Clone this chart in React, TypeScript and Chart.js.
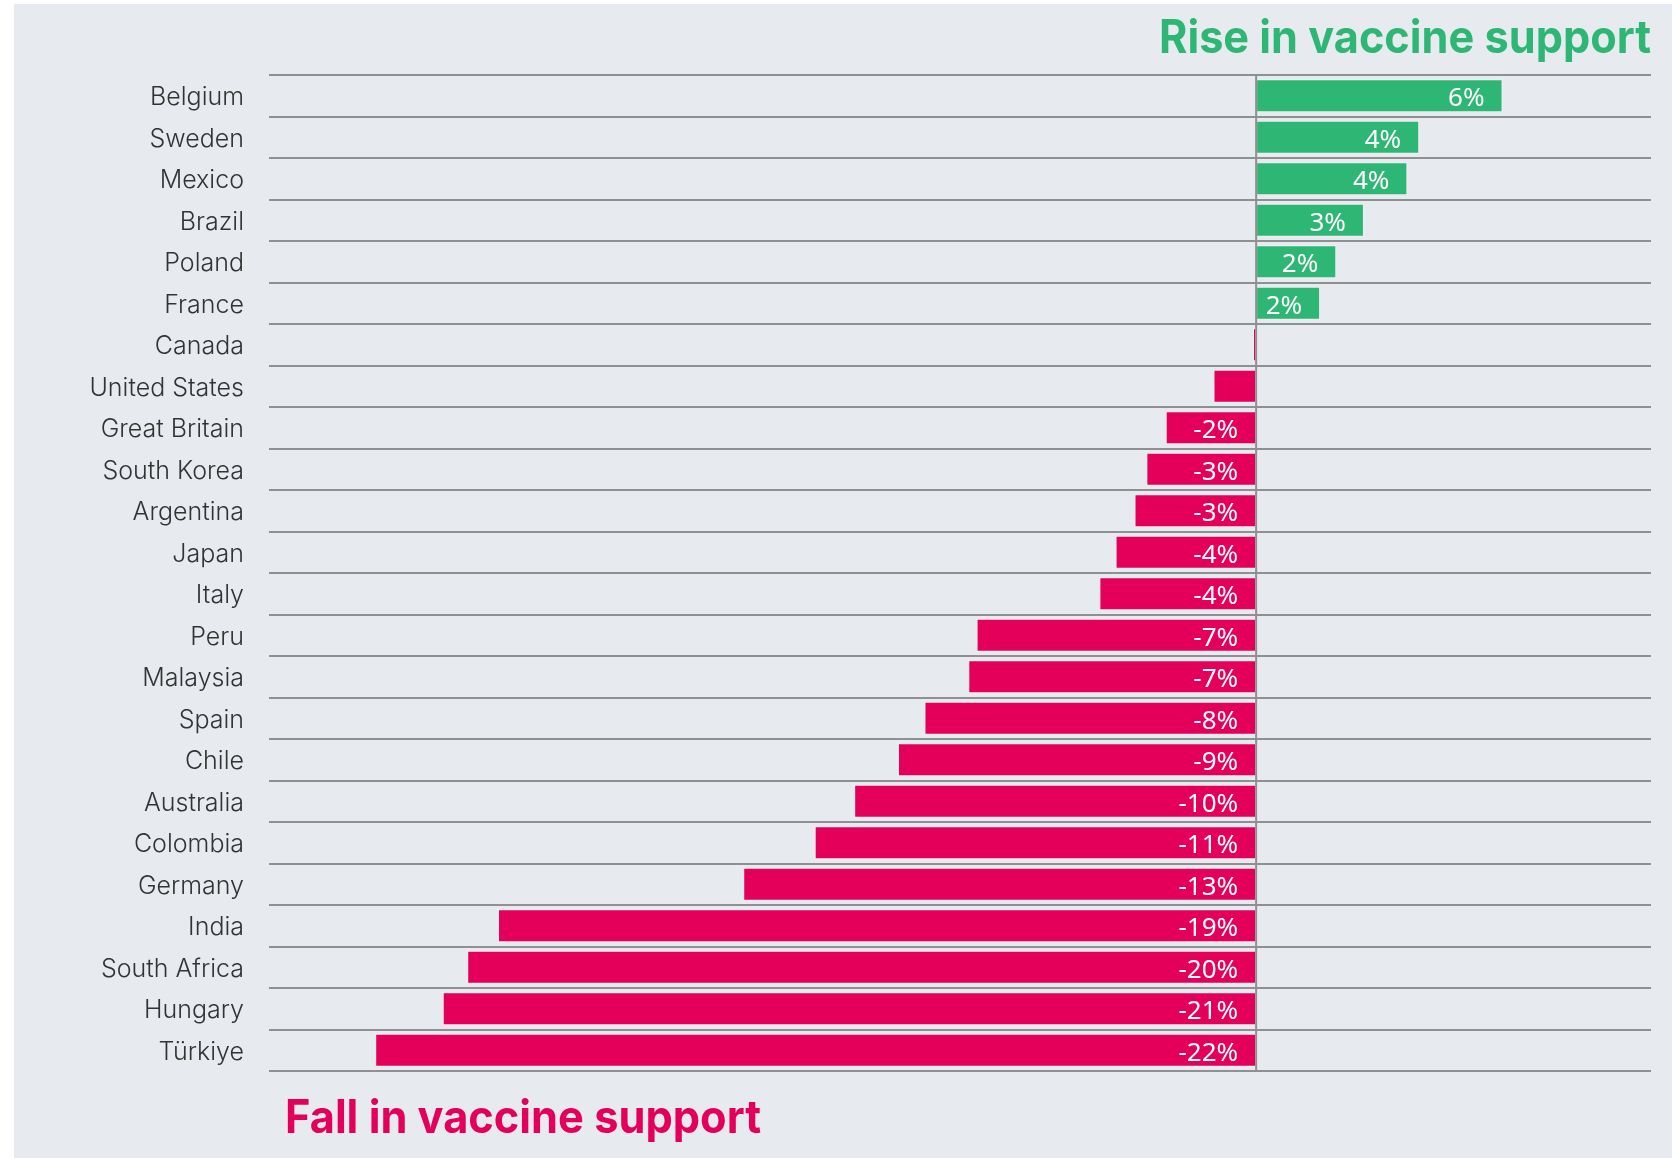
import React, { useEffect, useRef } from "react";
import { Chart, registerables } from "chart.js";

Chart.register(...registerables);

const countries = [
  "Belgium", "Sweden", "Mexico", "Brazil", "Poland", "France", "Canada",
  "United States", "Great Britain", "South Korea", "Argentina", "Japan", "Italy",
  "Peru", "Malaysia", "Spain", "Chile", "Australia", "Colombia", "Germany",
  "India", "South Africa", "Hungary", "Türkiye",
];

const change = [
  6.24, 4.13, 3.83, 2.73, 2.03, 1.62, -0.08, -1.08, -2.29, -2.78, -3.08, -3.56,
  -3.97, -7.08, -7.29, -8.4, -9.07, -10.18, -11.18, -12.99, -19.2, -19.98, -20.6, -22.31,
];

const valueLabels = [
  "6%", "4%", "4%", "3%", "2%", "2%", "", "", "-2%", "-3%", "-3%", "-4%",
  "-4%", "-7%", "-7%", "-8%", "-9%", "-10%", "-11%", "-13%", "-19%", "-20%", "-21%", "-22%",
];

const riseTitle = "Rise in vaccine support";
const fallTitle = "Fall in vaccine support";

const GREEN = "#2EB774";
const PINK = "#E4005A";
const GRID = "#8F9091";

export default function App() {
  const canvasRef = useRef<HTMLCanvasElement | null>(null);

  useEffect(() => {
    const canvas = canvasRef.current;
    if (!canvas) return;

    const labelsPlugin = {
      id: "valueLabels",
      afterDatasetsDraw(chart: any) {
        const ctx = chart.ctx;
        const meta = chart.getDatasetMeta(0);
        const xScale = chart.scales.x;
        const zero = xScale.getPixelForValue(0);
        ctx.save();
        // zero line
        ctx.strokeStyle = GRID;
        ctx.lineWidth = 2;
        ctx.beginPath();
        ctx.moveTo(zero, chart.chartArea.top - 1);
        ctx.lineTo(zero, chart.chartArea.bottom + 1);
        ctx.stroke();
        // value labels
        ctx.fillStyle = "#ffffff";
        ctx.font = "26px 'Noto Sans'";
        ctx.textAlign = "right";
        ctx.textBaseline = "middle";
        meta.data.forEach((bar: any, i: number) => {
          const txt = valueLabels[i];
          if (!txt) return;
          const right = Math.max(bar.x, bar.base);
          ctx.fillText(txt, right - 18, bar.y + 3);
        });
        // titles
        ctx.font = "bold 46px Inter";
        ctx.textBaseline = "alphabetic";
        ctx.fillStyle = GREEN;
        ctx.textAlign = "right";
        ctx.fillText(riseTitle, chart.chartArea.right, 53, 492);
        ctx.fillStyle = PINK;
        ctx.textAlign = "left";
        ctx.fillText(fallTitle, 285, 1133, 476);
        ctx.restore();
      },
    };

    const chart = new Chart(canvas, {
      type: "bar",
      data: {
        labels: countries,
        datasets: [
          {
            data: change,
            backgroundColor: change.map((v) => (v >= 0 ? GREEN : PINK)),
            borderColor: "rgba(255,255,255,0.35)",
            borderWidth: 1,
            borderSkipped: false,
            barPercentage: 0.8,
            categoryPercentage: 1,
          },
        ],
      },
      options: {
        indexAxis: "y",
        responsive: false,
        animation: false,
        layout: { padding: { left: 0, top: 75, right: 21, bottom: 87 } },
        plugins: {
          legend: { display: false },
          tooltip: { enabled: false },
          title: { display: false },
        },
        scales: {
          x: {
            min: -25,
            max: 10,
            display: true,
            ticks: { display: false, stepSize: 5 },
            grid: { display: false, drawTicks: false },
            border: { display: false },
            afterFit: (scale: any) => {
              scale.height = 0;
            },
          },
          y: {
            ticks: {
              color: "#333333",
              font: { family: "Inter", size: 25, weight: "300" },
              padding: 25,
              labelOffset: 2,
            },
            grid: {
              offset: true,
              color: GRID,
              lineWidth: 2,
              drawTicks: false,
            },
            border: { display: false },
            afterFit: (scale: any) => {
              scale.width = 269;
            },
          },
        },
      },
      plugins: [labelsPlugin],
    });

    return () => chart.destroy();
  }, []);

  return (
    <div
      style={{
        position: "absolute",
        left: 0,
        top: 0,
        width: 1672,
        height: 1158,
        background: "#ffffff",
        overflow: "hidden",
      }}
    >
      <div
        style={{
          position: "absolute",
          left: 14,
          top: 4,
          width: 1658,
          height: 1154,
          background: "#E7EAEF",
        }}
      />
      <canvas
        ref={canvasRef}
        width={1672}
        height={1158}
        style={{ position: "absolute", left: 0, top: 0, width: 1672, height: 1158 }}
      />
    </div>
  );
}
